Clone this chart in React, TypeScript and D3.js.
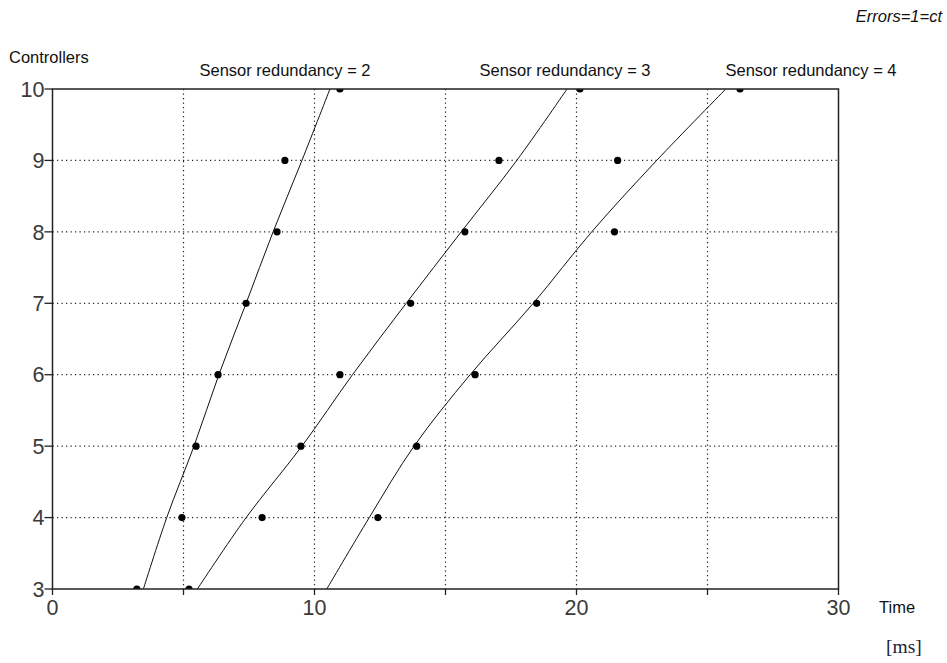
import * as d3 from 'd3'

const levels = [3, 4, 5, 6, 7, 8, 9, 10]
const redundancies = [2, 3, 4]

// fitted curve, time (ms) at each controller count
const fit2 = [3.47, 4.36, 5.4, 6.35, 7.39, 8.42, 9.52, 10.59]
const fit3 = [5.53, 7.39, 9.52, 11.45, 13.5, 15.6, 17.72, 19.64]
const fit4 = [10.47, 12.09, 13.8, 15.94, 18.35, 20.58, 23.06, 25.7]

// measured points
const pts2 = [3.22, 4.94, 5.48, 6.32, 7.39, 8.57, 8.87, 10.97]
const pts3 = [5.21, 8.0, 9.48, 10.97, 13.67, 15.74, 17.04, 20.13]
const pts4: (number | null)[] = [null, 12.42, 13.9, 16.13, 18.48, 21.45, 21.57, 26.24]

const xTicks = [0, 5, 10, 15, 20, 25, 30]
const xLabels = [0, 10, 20, 30]
const labelX = [285, 565, 811]

const W = 947
const H = 663
const FONT = '"Liberation Sans", Arial, sans-serif'

export default function App() {
  const x = d3.scaleLinear().domain([0, 30]).range([52.5, 838.5])
  const y = d3.scaleLinear().domain([3, 10]).range([589, 89])
  const [x0, x1] = x.range()
  const [y0, y1] = y.range()

  const fits = [fit2, fit3, fit4]
  const pts = [pts2, pts3, pts4]

  const line = d3.line<[number, number]>()
    .x(d => x(d[0]))
    .y(d => y(d[1]))
    .curve(d3.curveCatmullRom)

  return (
    <div style={{ position: 'absolute', left: 0, top: 0 }}>
      <svg width={W} height={H} style={{ display: 'block', background: '#fff' }}>
        <defs>
          <clipPath id="plot">
            <rect x={x0} y={y1} width={x1 - x0} height={y0 - y1} />
          </clipPath>
        </defs>

        {/* grid */}
        {xTicks.filter(t => t > 0 && t < 30).map(t => (
          <line key={'gx' + t} x1={x(t)} x2={x(t)} y1={y1} y2={y0}
            stroke="#222" strokeWidth={1.2} strokeDasharray="1.2,3.3" />
        ))}
        {levels.filter(l => l > 3 && l < 10).map(l => (
          <line key={'gy' + l} x1={x0} x2={x1} y1={y(l)} y2={y(l)}
            stroke="#222" strokeWidth={1.2} strokeDasharray="1.2,3.3" />
        ))}

        {/* curves and points */}
        <g clipPath="url(#plot)">
          {fits.map((f, i) => (
            <path key={'f' + i}
              d={line(f.map((v, j) => [v, levels[j]] as [number, number])) ?? ''}
              fill="none" stroke="#111" strokeWidth={1} />
          ))}
          {pts.map((p, i) => p.map((v, j) => v == null ? null : (
            <circle key={`p${i}-${j}`} cx={x(v)} cy={y(levels[j])} r={3.6} fill="#000" />
          )))}
        </g>

        {/* frame */}
        <rect x={x0} y={y1} width={x1 - x0} height={y0 - y1} fill="none" stroke="#222" strokeWidth={1.5} />

        {/* y ticks */}
        {levels.map(l => (
          <g key={'ty' + l}>
            <line x1={x0 - 8} x2={x0} y1={y(l)} y2={y(l)} stroke="#222" strokeWidth={1.3} />
            <text x={x0 - 8} y={y(l)} dy="0.36em" textAnchor="end" fontFamily={FONT}
              fontSize={21.5} fill="#3a3a3a">{l}</text>
          </g>
        ))}

        {/* x ticks */}
        {xTicks.map(t => (
          <line key={'tx' + t} x1={x(t)} x2={x(t)} y1={y0} y2={y0 + 6} stroke="#222" strokeWidth={1.3} />
        ))}
        {xLabels.map(t => (
          <text key={'lx' + t} x={x(t)} y={615} textAnchor="middle" fontFamily={FONT}
            fontSize={21.5} fill="#3a3a3a">{t}</text>
        ))}

        {/* titles */}
        <text x={9} y={63} fontFamily={FONT} fontSize={16.5} fill="#111">Controllers</text>
        {redundancies.map((r, i) => (
          <text key={'sr' + r} x={labelX[i]} y={76} textAnchor="middle" fontFamily={FONT}
            fontSize={16.5} fill="#111">Sensor redundancy = {r}</text>
        ))}
        <text x={879} y={613} fontFamily={FONT} fontSize={16.5} fill="#111">Time</text>
        <text x={886} y={653} fontFamily='"Liberation Serif", "Times New Roman", serif'
          fontSize={19.5} fill="#1c1c3a">[ms]</text>
        <text x={942} y={22} textAnchor="end" fontFamily={FONT} fontStyle="italic"
          fontSize={16.5} fill="#111">Errors=1=ct</text>
      </svg>
    </div>
  )
}
